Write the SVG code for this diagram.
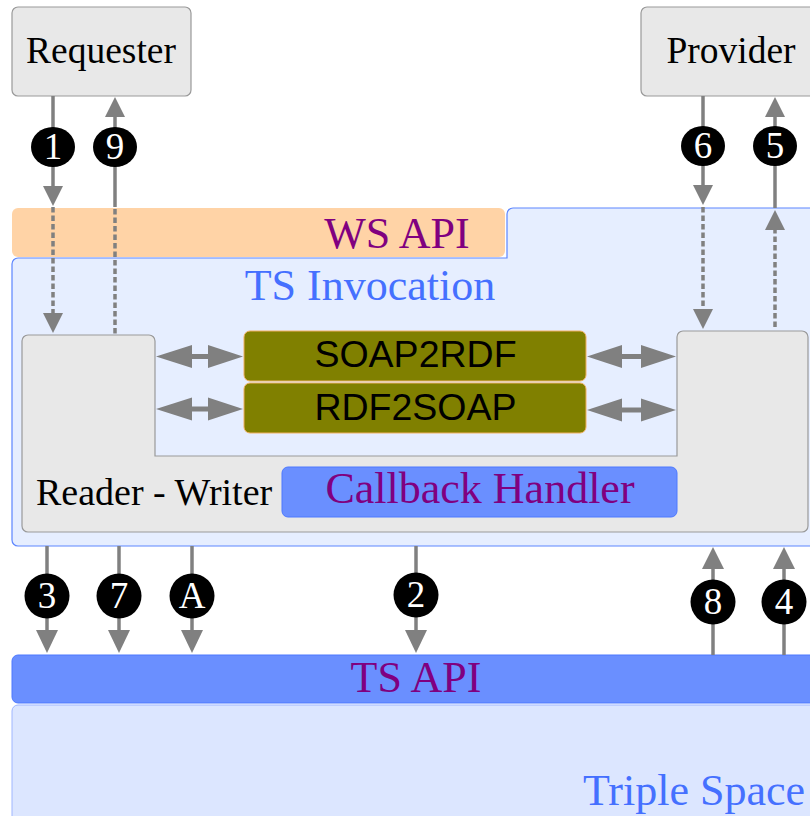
<svg xmlns="http://www.w3.org/2000/svg" width="810" height="816" viewBox="0 0 810 816">
  <defs>
    <style>
      .box { fill: #e8e8e8; stroke: #999999; stroke-width: 1.2; }
      .serif { font-family: "Liberation Serif", "Times New Roman", serif; }
      .sans { font-family: "Liberation Sans", Arial, sans-serif; }
      .purple { fill: #800080; }
      .conv { fill: #808000; stroke: #f0b060; stroke-width: 1; }
      .wire { stroke: #808080; stroke-width: 3.5; fill: none; }
      .dash { stroke: #808080; stroke-width: 3.5; fill: none; stroke-dasharray: 5.5 3; }
      .bi { stroke: #808080; stroke-width: 5; fill: none; }
      .head { fill: #808080; }
      .badge { fill: #000000; }
      .badge-text { fill: #ffffff; font-family: "Liberation Serif", "Times New Roman", serif; font-size: 37px; text-anchor: middle; }
    </style>
  </defs>

  <!-- Triple Space layer -->
  <g id="triple-space">
    <rect x="12" y="705" width="830" height="140" rx="6" fill="#dce6ff" stroke="#9fb6ff" stroke-width="1"/>
    <text x="583" y="805" class="serif" font-size="44" fill="#4570ff">Triple Space</text>
  </g>

  <!-- TS API bar -->
  <g id="ts-api">
    <rect x="12" y="655" width="830" height="48" rx="6" fill="#6a8fff" stroke="#4c78ff" stroke-width="1"/>
    <text x="416" y="692" class="serif purple" font-size="44" text-anchor="middle">TS API</text>
  </g>

  <!-- WS API bar -->
  <g id="ws-api">
    <rect x="12" y="208" width="493" height="49" rx="6" fill="#ffd3a6"/>
    <text x="397" y="248" class="serif purple" font-size="44" text-anchor="middle">WS API</text>
  </g>

  <!-- TS Invocation panel -->
  <g id="ts-invocation">
    <path d="M18,258 H507 V214 A6,6 0 0 1 513,208 H840 V546 H18 A6,6 0 0 1 12,540 V264 A6,6 0 0 1 18,258 Z" fill="#e6eeff" stroke="#5c85ff" stroke-width="1.2"/>
    <text x="370" y="300" class="serif" font-size="44" fill="#4570ff" text-anchor="middle">TS Invocation</text>
  </g>

  <!-- Reader - Writer component -->
  <g id="reader-writer">
    <path class="box" d="M28,335 H149 A6,6 0 0 1 155,341 V456 H677 V337 A6,6 0 0 1 683,331 H802 A6,6 0 0 1 808,337 V526 A6,6 0 0 1 802,532 H28 A6,6 0 0 1 22,526 V341 A6,6 0 0 1 28,335 Z"/>
    <text x="36" y="505" class="serif" font-size="38" fill="#000000">Reader - Writer</text>
  </g>

  <!-- Callback Handler -->
  <g id="callback-handler">
    <rect x="282" y="467" width="395" height="50" rx="6" fill="#6a8fff" stroke="#4c78ff" stroke-width="1"/>
    <text x="480" y="503" class="serif purple" font-size="44" text-anchor="middle">Callback Handler</text>
  </g>

  <!-- Converters -->
  <g id="soap2rdf">
    <rect class="conv" x="244" y="331" width="342" height="50" rx="6"/>
    <text x="415.5" y="367" class="sans" font-size="37.5" fill="#000000" text-anchor="middle">SOAP2RDF</text>
  </g>
  <g id="rdf2soap">
    <rect class="conv" x="244" y="383" width="342" height="50" rx="6"/>
    <text x="415.5" y="420" class="sans" font-size="37.5" fill="#000000" text-anchor="middle">RDF2SOAP</text>
  </g>

  <!-- Requester / Provider -->
  <g id="requester">
    <rect class="box" x="12" y="7" width="179" height="89" rx="6"/>
    <text x="101" y="63" class="serif" font-size="37.5" fill="#000000" text-anchor="middle">Requester</text>
  </g>
  <g id="provider">
    <rect class="box" x="641" y="7" width="180" height="89" rx="6"/>
    <text x="731" y="63" class="serif" font-size="37.5" fill="#000000" text-anchor="middle">Provider</text>
  </g>

  <!-- Connectors -->
  <g id="connectors">
    <!-- 1: Requester down to reader -->
    <line class="wire" x1="53" y1="96" x2="53" y2="188"/>
    <polygon class="head" points="43,186 63,186 53,206"/>
    <line class="dash" x1="53" y1="207" x2="53" y2="316"/>
    <polygon class="head" points="43,313 63,313 53,333"/>

    <!-- 9: reader back up to Requester -->
    <polygon class="head" points="105,117 125,117 115,97"/>
    <line class="wire" x1="115" y1="115" x2="115" y2="207"/>
    <line class="dash" x1="115" y1="209" x2="115" y2="334"/>

    <!-- 6: Provider down to writer -->
    <line class="wire" x1="703" y1="96" x2="703" y2="188"/>
    <polygon class="head" points="693,185 713,185 703,205"/>
    <line class="dash" x1="703" y1="207" x2="703" y2="312"/>
    <polygon class="head" points="693,309 713,309 703,329"/>

    <!-- 5: writer up to Provider -->
    <polygon class="head" points="765,117 785,117 775,97"/>
    <line class="wire" x1="775" y1="115" x2="775" y2="208"/>
    <polygon class="head" points="765,230 785,230 775,210"/>
    <line class="dash" x1="775" y1="228" x2="775" y2="330"/>

    <!-- converter links -->
    <line class="bi" x1="180" y1="356.5" x2="220" y2="356.5"/>
    <polygon class="head" points="156,356.5 192,345 192,368"/>
    <polygon class="head" points="243,356.5 208,345 208,368"/>
    <line class="bi" x1="180" y1="409" x2="220" y2="409"/>
    <polygon class="head" points="156,409 192,397.5 192,420.5"/>
    <polygon class="head" points="243,409 208,397.5 208,420.5"/>
    <line class="bi" x1="610" y1="356.5" x2="652" y2="356.5"/>
    <polygon class="head" points="587,356.5 622,345 622,368"/>
    <polygon class="head" points="676,356.5 641,345 641,368"/>
    <line class="bi" x1="610" y1="410" x2="652" y2="410"/>
    <polygon class="head" points="587,410 622,398.5 622,421.5"/>
    <polygon class="head" points="676,410 641,398.5 641,421.5"/>

    <!-- down to TS API: 3, 7, A, 2 -->
    <line class="wire" x1="47" y1="546" x2="47" y2="633"/>
    <polygon class="head" points="36,630 58,630 47,653"/>
    <line class="wire" x1="119" y1="546" x2="119" y2="633"/>
    <polygon class="head" points="108,630 130,630 119,653"/>
    <line class="wire" x1="192" y1="546" x2="192" y2="633"/>
    <polygon class="head" points="181,630 203,630 192,653"/>
    <line class="wire" x1="416" y1="546" x2="416" y2="633"/>
    <polygon class="head" points="405,630 427,630 416,653"/>

    <!-- up from TS API: 8, 4 -->
    <polygon class="head" points="702,569 724,569 713,547"/>
    <line class="wire" x1="713" y1="566" x2="713" y2="655"/>
    <polygon class="head" points="773,569 795,569 784,547"/>
    <line class="wire" x1="784" y1="566" x2="784" y2="655"/>
  </g>

  <!-- Step badges -->
  <g id="badge-1"><ellipse class="badge" cx="53" cy="147" rx="22" ry="20"/><text class="badge-text" x="53" y="159">1</text></g>
  <g id="badge-9"><ellipse class="badge" cx="115" cy="147" rx="22" ry="20"/><text class="badge-text" x="115" y="159">9</text></g>
  <g id="badge-6"><ellipse class="badge" cx="703" cy="146" rx="22" ry="20"/><text class="badge-text" x="703" y="158">6</text></g>
  <g id="badge-5"><ellipse class="badge" cx="775" cy="146" rx="22" ry="20"/><text class="badge-text" x="775" y="158">5</text></g>
  <g id="badge-3"><circle class="badge" cx="47" cy="596" r="22.5"/><text class="badge-text" x="47" y="608">3</text></g>
  <g id="badge-7"><circle class="badge" cx="119" cy="596" r="22.5"/><text class="badge-text" x="119" y="608">7</text></g>
  <g id="badge-A"><circle class="badge" cx="192" cy="596" r="22.5"/><text class="badge-text" x="192" y="608">A</text></g>
  <g id="badge-2"><circle class="badge" cx="416" cy="595" r="22.5"/><text class="badge-text" x="416" y="607">2</text></g>
  <g id="badge-8"><circle class="badge" cx="713" cy="602" r="22.5"/><text class="badge-text" x="713" y="614">8</text></g>
  <g id="badge-4"><circle class="badge" cx="784" cy="602" r="22.5"/><text class="badge-text" x="784" y="614">4</text></g>
</svg>
